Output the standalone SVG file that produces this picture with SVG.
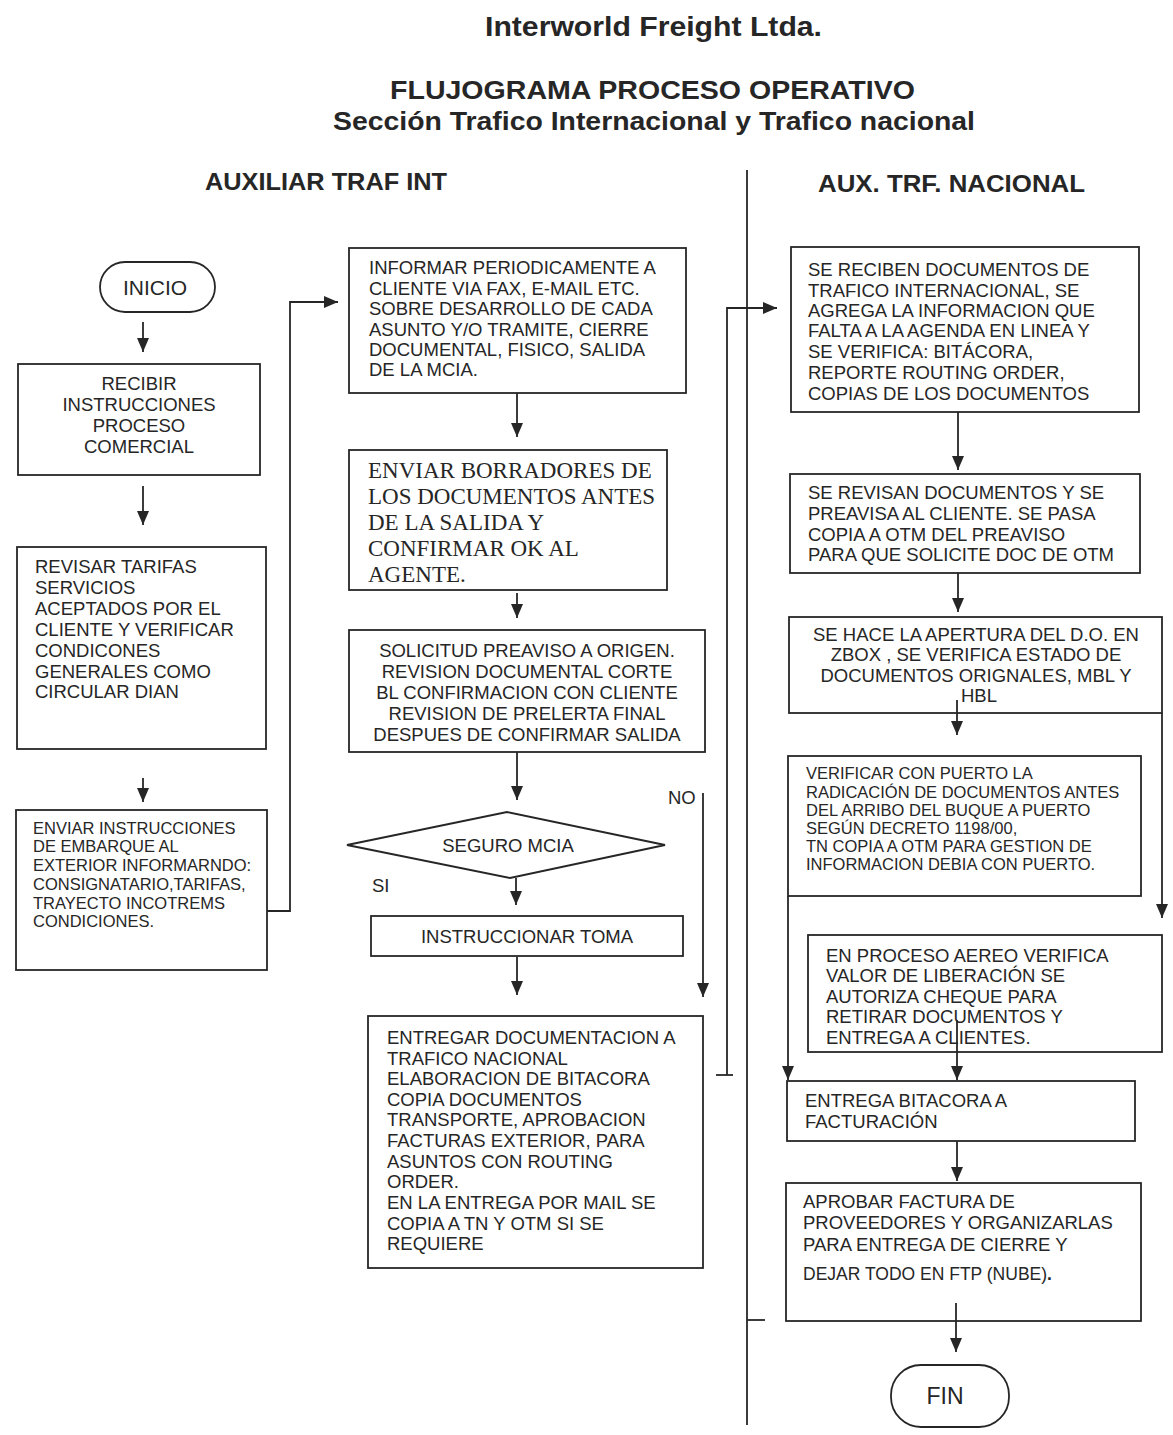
<svg xmlns="http://www.w3.org/2000/svg" width="1173" height="1435" viewBox="0 0 1173 1435">
<style>
.box{fill:none;stroke:#262626;stroke-width:1.8}
.ln{fill:none;stroke:#262626;stroke-width:1.8}
.t{font-family:"Liberation Sans",Arial,sans-serif;font-size:18.5px;fill:#262626}
.s{font-size:16.5px}
.c{text-anchor:middle}
.tr{font-family:"Liberation Serif","Times New Roman",serif;font-size:23px;fill:#262626}
.h{font-family:"Liberation Sans",Arial,sans-serif;font-weight:bold;fill:#262626}
</style>
<defs>
<marker id="ah" markerUnits="userSpaceOnUse" markerWidth="14" markerHeight="12" refX="14" refY="6" orient="auto">
<path d="M0,0 L14,6 L0,12 z" fill="#262626"/>
</marker>
</defs>
<rect width="1173" height="1435" fill="#ffffff"/>
<g id="titles">
<text class="h" x="485" y="36" font-size="27" textLength="337" lengthAdjust="spacingAndGlyphs">Interworld Freight Ltda.</text>
<text class="h" x="390" y="99" font-size="26" textLength="525" lengthAdjust="spacingAndGlyphs">FLUJOGRAMA  PROCESO OPERATIVO</text>
<text class="h" x="333" y="130" font-size="26" textLength="642" lengthAdjust="spacingAndGlyphs">Sección  Trafico Internacional y Trafico nacional</text>
<text class="h" x="205" y="190" font-size="23" textLength="242" lengthAdjust="spacingAndGlyphs">AUXILIAR TRAF INT</text>
<text class="h" x="818" y="192" font-size="23" textLength="267" lengthAdjust="spacingAndGlyphs">AUX. TRF. NACIONAL</text>
</g>
<g id="connectors">
<line class="ln" x1="747" y1="170" x2="747" y2="1425"/>
<line class="ln" x1="143" y1="322" x2="143" y2="352" marker-end="url(#ah)"/>
<line class="ln" x1="143" y1="486" x2="143" y2="525" marker-end="url(#ah)"/>
<line class="ln" x1="143" y1="778" x2="143" y2="802" marker-end="url(#ah)"/>
<polyline class="ln" points="267,911 290,911 290,302 338,302" marker-end="url(#ah)"/>
<line class="ln" x1="517" y1="393" x2="517" y2="437" marker-end="url(#ah)"/>
<line class="ln" x1="517" y1="593" x2="517" y2="618" marker-end="url(#ah)"/>
<line class="ln" x1="517" y1="752" x2="517" y2="800" marker-end="url(#ah)"/>
<line class="ln" x1="516" y1="878" x2="516" y2="905" marker-end="url(#ah)"/>
<line class="ln" x1="517" y1="957" x2="517" y2="995" marker-end="url(#ah)"/>
<line class="ln" x1="703" y1="793" x2="703" y2="997" marker-end="url(#ah)"/>
<line class="ln" x1="716" y1="1075" x2="733" y2="1075"/>
<polyline class="ln" points="727,1075 727,308 777,308" marker-end="url(#ah)"/>
<line class="ln" x1="958" y1="412" x2="958" y2="470" marker-end="url(#ah)"/>
<line class="ln" x1="958" y1="573" x2="958" y2="612" marker-end="url(#ah)"/>
<line class="ln" x1="957" y1="700" x2="957" y2="735" marker-end="url(#ah)"/>
<line class="ln" x1="1162" y1="713" x2="1162" y2="918" marker-end="url(#ah)"/>
<line class="ln" x1="788" y1="896" x2="788" y2="1080" marker-end="url(#ah)"/>
<line class="ln" x1="957" y1="1020" x2="957" y2="1080" marker-end="url(#ah)"/>
<line class="ln" x1="957" y1="1141" x2="957" y2="1181" marker-end="url(#ah)"/>
<line class="ln" x1="956" y1="1303" x2="956" y2="1352" marker-end="url(#ah)"/>
<line class="ln" x1="747" y1="1320" x2="765" y2="1320"/>
</g>
<g id="inicio">
<rect class="box" x="100" y="262" width="115" height="50" rx="25"/>
<text class="t c" x="155" y="295" style="font-size:21px">INICIO</text>
</g>
<g id="recibir">
<rect class="box" x="18" y="364" width="242" height="111"/>
<text class="t c" x="139" y="390">RECIBIR</text>
<text class="t c" x="139" y="411">INSTRUCCIONES</text>
<text class="t c" x="139" y="432">PROCESO</text>
<text class="t c" x="139" y="453">COMERCIAL</text>
</g>
<g id="revisar">
<rect class="box" x="17" y="547" width="249" height="202"/>
<text class="t" x="35" y="573">REVISAR  TARIFAS</text>
<text class="t" x="35" y="594">SERVICIOS</text>
<text class="t" x="35" y="615">ACEPTADOS POR EL</text>
<text class="t" x="35" y="636">CLIENTE Y VERIFICAR</text>
<text class="t" x="35" y="657">CONDICONES</text>
<text class="t" x="35" y="678">GENERALES COMO</text>
<text class="t" x="35" y="698">CIRCULAR DIAN</text>
</g>
<g id="enviar-instrucciones">
<rect class="box" x="16" y="810" width="251" height="160"/>
<text class="t s" x="33" y="834">ENVIAR INSTRUCCIONES</text>
<text class="t s" x="33" y="852">DE EMBARQUE AL</text>
<text class="t s" x="33" y="871">EXTERIOR INFORMARNDO:</text>
<text class="t s" x="33" y="890">CONSIGNATARIO,TARIFAS,</text>
<text class="t s" x="33" y="909">TRAYECTO INCOTREMS</text>
<text class="t s" x="33" y="927">CONDICIONES.</text>
</g>
<g id="informar">
<rect class="box" x="349" y="248" width="337" height="145"/>
<text class="t" x="369" y="274">INFORMAR PERIODICAMENTE A</text>
<text class="t" x="369" y="295">CLIENTE  VIA FAX, E-MAIL ETC.</text>
<text class="t" x="369" y="315">SOBRE DESARROLLO DE CADA</text>
<text class="t" x="369" y="336">ASUNTO Y/O TRAMITE, CIERRE</text>
<text class="t" x="369" y="356">DOCUMENTAL, FISICO, SALIDA</text>
<text class="t" x="369" y="376">DE LA MCIA.</text>
</g>
<g id="borradores">
<rect class="box" x="349" y="450" width="318" height="140"/>
<text class="tr" x="368" y="478">ENVIAR BORRADORES DE</text>
<text class="tr" x="368" y="504">LOS DOCUMENTOS ANTES</text>
<text class="tr" x="368" y="530">DE LA SALIDA Y</text>
<text class="tr" x="368" y="556">CONFIRMAR OK AL</text>
<text class="tr" x="368" y="582">AGENTE.</text>
</g>
<g id="solicitud">
<rect class="box" x="349" y="630" width="356" height="122"/>
<text class="t c" x="527" y="657">SOLICITUD PREAVISO A ORIGEN.</text>
<text class="t c" x="527" y="678">REVISION DOCUMENTAL CORTE</text>
<text class="t c" x="527" y="699">BL CONFIRMACION CON CLIENTE</text>
<text class="t c" x="527" y="720">REVISION DE PRELERTA FINAL</text>
<text class="t c" x="527" y="741">DESPUES DE CONFIRMAR SALIDA</text>
</g>
<g id="seguro">
<polygon class="box" points="347,845 507,812 665,845 510,878"/>
<text class="t c" x="508" y="852">SEGURO MCIA</text>
<text class="t" x="668" y="804">NO</text>
<text class="t" x="372" y="892">SI</text>
</g>
<g id="instruccionar">
<rect class="box" x="371" y="916" width="312" height="40"/>
<text class="t c" x="527" y="943">INSTRUCCIONAR TOMA</text>
</g>
<g id="entregar">
<rect class="box" x="368" y="1016" width="335" height="252"/>
<text class="t" x="387" y="1044">ENTREGAR DOCUMENTACION A</text>
<text class="t" x="387" y="1065">TRAFICO NACIONAL</text>
<text class="t" x="387" y="1085">ELABORACION DE BITACORA</text>
<text class="t" x="387" y="1106">COPIA  DOCUMENTOS</text>
<text class="t" x="387" y="1126">TRANSPORTE, APROBACION</text>
<text class="t" x="387" y="1147">FACTURAS EXTERIOR, PARA</text>
<text class="t" x="387" y="1168">ASUNTOS CON ROUTING</text>
<text class="t" x="387" y="1188">ORDER.</text>
<text class="t" x="387" y="1209">EN LA ENTREGA POR MAIL SE</text>
<text class="t" x="387" y="1230">COPIA A TN Y OTM SI SE</text>
<text class="t" x="387" y="1250">REQUIERE</text>
</g>
<g id="se-reciben">
<rect class="box" x="791" y="247" width="348" height="165"/>
<text class="t" x="808" y="276">SE RECIBEN DOCUMENTOS DE</text>
<text class="t" x="808" y="297">TRAFICO INTERNACIONAL, SE</text>
<text class="t" x="808" y="317">AGREGA LA INFORMACION QUE</text>
<text class="t" x="808" y="337">FALTA A LA AGENDA EN LINEA Y</text>
<text class="t" x="808" y="358">SE VERIFICA: BITÁCORA,</text>
<text class="t" x="808" y="379">REPORTE ROUTING ORDER,</text>
<text class="t" x="808" y="400">COPIAS DE LOS DOCUMENTOS</text>
</g>
<g id="se-revisan">
<rect class="box" x="790" y="474" width="350" height="99"/>
<text class="t" x="808" y="499">SE REVISAN DOCUMENTOS Y SE</text>
<text class="t" x="808" y="520">PREAVISA AL CLIENTE. SE PASA</text>
<text class="t" x="808" y="541">COPIA A OTM DEL PREAVISO</text>
<text class="t" x="808" y="561">PARA QUE SOLICITE DOC DE OTM</text>
</g>
<g id="se-hace">
<rect class="box" x="789" y="617" width="373" height="96"/>
<text class="t c" x="976" y="641">SE HACE LA APERTURA DEL D.O. EN</text>
<text class="t c" x="976" y="661">ZBOX , SE VERIFICA ESTADO DE</text>
<text class="t c" x="976" y="682">DOCUMENTOS ORIGNALES, MBL Y</text>
<text class="t c" x="979" y="702">HBL</text>
</g>
<g id="verificar">
<rect class="box" x="788" y="756" width="353" height="140"/>
<text class="t s" x="806" y="779">VERIFICAR CON PUERTO LA</text>
<text class="t s" x="806" y="798">RADICACIÓN DE  DOCUMENTOS ANTES</text>
<text class="t s" x="806" y="816">DEL ARRIBO DEL BUQUE A PUERTO</text>
<text class="t s" x="806" y="834">SEGÚN DECRETO 1198/00,</text>
<text class="t s" x="806" y="852">TN  COPIA A OTM PARA GESTION DE</text>
<text class="t s" x="806" y="870">INFORMACION DEBIA CON PUERTO.</text>
</g>
<g id="proceso-aereo">
<rect class="box" x="808" y="935" width="354" height="117"/>
<text class="t" x="826" y="962">EN PROCESO AEREO VERIFICA</text>
<text class="t" x="826" y="982">VALOR DE LIBERACIÓN SE</text>
<text class="t" x="826" y="1003">AUTORIZA CHEQUE PARA</text>
<text class="t" x="826" y="1023">RETIRAR DOCUMENTOS  Y</text>
<text class="t" x="826" y="1044">ENTREGA A CLIENTES.</text>
</g>
<g id="entrega-bitacora">
<rect class="box" x="787" y="1081" width="348" height="60"/>
<text class="t" x="805" y="1107">ENTREGA BITACORA  A</text>
<text class="t" x="805" y="1128">FACTURACIÓN</text>
</g>
<g id="aprobar">
<rect class="box" x="786" y="1183" width="355" height="138"/>
<text class="t" x="803" y="1208">APROBAR FACTURA DE</text>
<text class="t" x="803" y="1229">PROVEEDORES Y ORGANIZARLAS</text>
<text class="t" x="803" y="1251">PARA ENTREGA DE CIERRE Y</text>
<text class="t" x="803" y="1280" style="font-size:17.5px">DEJAR TODO EN FTP (NUBE)<tspan font-weight="bold">.</tspan></text>
</g>
<g id="fin">
<rect class="box" x="891" y="1365" width="118" height="62" rx="30"/>
<text class="t c" x="945" y="1404" style="font-size:23px">FIN</text>
</g>
</svg>
